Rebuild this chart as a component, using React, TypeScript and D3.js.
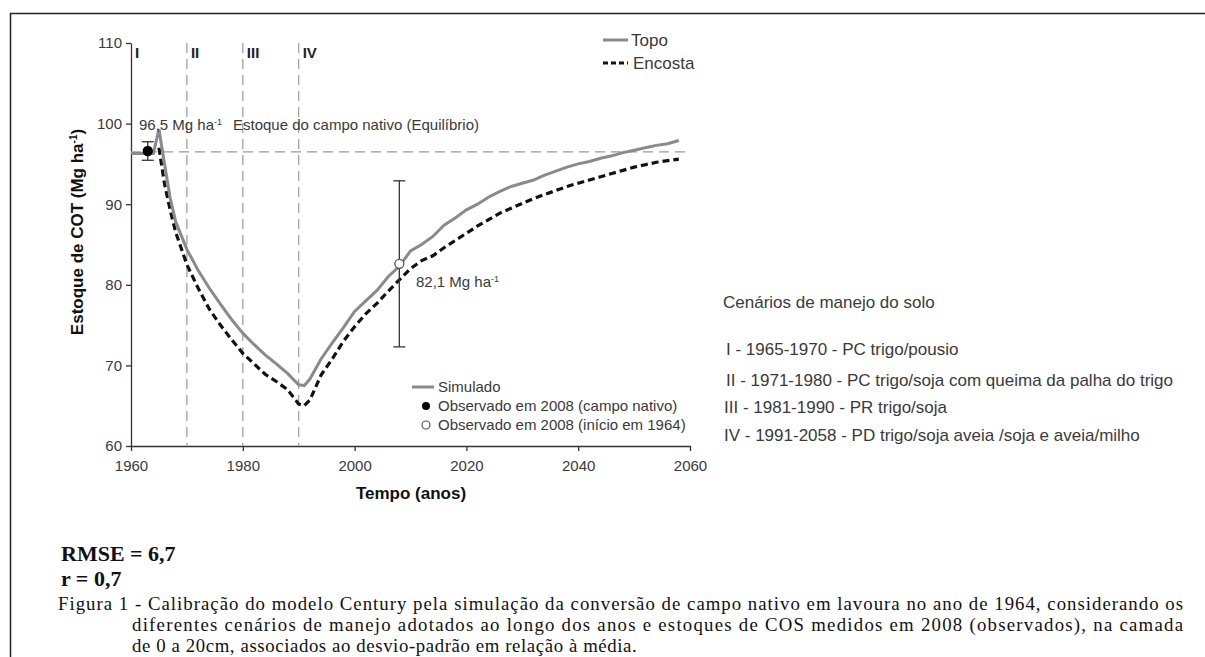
import React, { useEffect, useRef } from 'react';
import * as d3 from 'd3';

// simulated soil carbon stock
const topoYears = [1960, 1964, 1965, 1966, 1967, 1968, 1970, 1972, 1974, 1976, 1978, 1980, 1982, 1984, 1986, 1988, 1990, 1991, 1992, 1994, 1996, 1998, 2000, 2002, 2004, 2006, 2008, 2010, 2012, 2014, 2016, 2018, 2020, 2022, 2024, 2026, 2028, 2030, 2032, 2034, 2036, 2038, 2040, 2042, 2044, 2046, 2048, 2050, 2052, 2054, 2056, 2058];
const topoValues = [96.3, 96.3, 99.3, 95.0, 90.8, 87.8, 84.4, 81.8, 79.6, 77.6, 75.7, 74.0, 72.6, 71.3, 70.2, 69.0, 67.6, 67.5, 68.3, 70.8, 72.8, 74.7, 76.7, 78.0, 79.3, 81.0, 82.3, 84.2, 85.0, 86.0, 87.4, 88.3, 89.3, 90.0, 90.9, 91.6, 92.2, 92.6, 93.0, 93.6, 94.1, 94.6, 95.0, 95.3, 95.7, 96.0, 96.4, 96.7, 97.0, 97.3, 97.5, 97.9];

const encostaYears = [1965, 1966, 1967, 1968, 1970, 1972, 1974, 1976, 1978, 1980, 1982, 1984, 1986, 1988, 1990, 1991, 1992, 1994, 1996, 1998, 2000, 2002, 2004, 2006, 2008, 2010, 2012, 2014, 2016, 2018, 2020, 2022, 2024, 2026, 2028, 2030, 2032, 2034, 2036, 2038, 2040, 2042, 2044, 2046, 2048, 2050, 2052, 2054, 2056, 2058];
const encostaValues = [97.0, 92.5, 89.3, 86.5, 82.5, 79.6, 77.0, 75.0, 73.2, 71.5, 70.2, 68.9, 68.0, 67.0, 65.2, 65.0, 65.7, 68.8, 70.8, 73.0, 74.8, 76.4, 77.7, 79.2, 80.6, 82.0, 83.0, 83.6, 84.6, 85.5, 86.4, 87.3, 88.1, 88.9, 89.5, 90.1, 90.7, 91.2, 91.7, 92.2, 92.6, 93.0, 93.4, 93.8, 94.2, 94.6, 94.9, 95.2, 95.4, 95.6];

// observed points (year, value, error)
const obsYears = [1963, 2008];
const obsValues = [96.6, 82.6];
const obsErrors = [1.15, 10.3];
const obsFilled = [true, false];

const equilibrium = 96.5;
const periodStarts = [1960, 1970, 1980, 1990];
const periodLabels = ['I', 'II', 'III', 'IV'];

const xTicks = [1960, 1980, 2000, 2020, 2040, 2060];
const yTicks = [60, 70, 80, 90, 100, 110];

const scenarioTitle = 'Cenários de manejo do solo';
const scenarios = [
  'I - 1965-1970 - PC trigo/pousio',
  'II - 1971-1980 - PC trigo/soja com queima da palha do trigo',
  'III - 1981-1990 - PR trigo/soja',
  'IV - 1991-2058 - PD trigo/soja  aveia /soja  e  aveia/milho',
];

const captionLines = [
  'Figura  1 - Calibração do modelo Century pela simulação da conversão de campo nativo em lavoura no ano de 1964, considerando os',
  'diferentes cenários de manejo adotados ao longo dos anos e estoques de COS medidos em 2008 (observados), na camada',
  'de 0 a 20cm, associados ao desvio-padrão em relação à média.',
];

const App = () => {
  const svgRef = useRef(null);

  useEffect(() => {
    const svg = d3.select(svgRef.current);
    svg.selectAll('*').remove();

    const sans = '"Liberation Sans", Arial, sans-serif';
    const serif = '"Liberation Serif", "Times New Roman", serif';
    const gray = '#8a8a8a';
    const txt = '#3a3a3a';

    // page frame (top and left only)
    svg.append('path')
      .attr('d', 'M10.5,657 L10.5,13.5 L1205,13.5')
      .attr('fill', 'none')
      .attr('stroke', '#222')
      .attr('stroke-width', 1.5);

    const x = d3.scaleLinear().domain([1960, 2060]).range([131, 690]);
    const y = d3.scaleLinear().domain([60, 110]).range([446, 43]);

    // axes
    const xAxis = svg.append('g')
      .attr('transform', `translate(0,${y(60)})`)
      .call(d3.axisBottom(x).tickValues(xTicks).tickFormat(d3.format('d')).tickSize(5).tickSizeOuter(0));
    const yAxis = svg.append('g')
      .attr('transform', `translate(${x(1960)},0)`)
      .call(d3.axisLeft(y).tickValues(yTicks).tickSize(5).tickSizeOuter(0));
    [xAxis, yAxis].forEach(a => {
      a.select('.domain').attr('stroke', '#333').attr('stroke-width', 1.3);
      a.selectAll('.tick line').attr('stroke', '#333').attr('stroke-width', 1.3);
      a.selectAll('.tick text')
        .attr('font-family', sans)
        .attr('font-size', 15)
        .attr('fill', txt);
    });
    xAxis.selectAll('.tick text').attr('dy', '1.1em');
    yAxis.selectAll('.tick text').attr('x', -9);

    // period separators
    svg.append('g').selectAll('line')
      .data(periodStarts.slice(1))
      .join('line')
      .attr('x1', d => x(d)).attr('x2', d => x(d))
      .attr('y1', y(110)).attr('y2', y(60))
      .attr('stroke', '#9a9a9a')
      .attr('stroke-width', 1.2)
      .attr('stroke-dasharray', '10,6');

    svg.append('g').selectAll('text')
      .data(periodLabels)
      .join('text')
      .attr('x', (d, i) => x(periodStarts[i]) + 4)
      .attr('y', 58)
      .attr('font-family', sans)
      .attr('font-weight', 'bold')
      .attr('font-size', 15)
      .attr('fill', '#222')
      .text(d => d);

    // equilibrium line
    svg.append('line')
      .attr('x1', x(1960)).attr('x2', x(2060))
      .attr('y1', y(equilibrium)).attr('y2', y(equilibrium))
      .attr('stroke', '#9a9a9a')
      .attr('stroke-width', 1.2)
      .attr('stroke-dasharray', '10,6');

    const line = d3.line().x(d => x(d[0])).y(d => y(d[1]));

    // simulated curves
    svg.append('path')
      .datum(encostaYears.map((yr, i) => [yr, encostaValues[i]]))
      .attr('d', line)
      .attr('fill', 'none')
      .attr('stroke', '#111')
      .attr('stroke-width', 3.2)
      .attr('stroke-dasharray', '7,4');

    svg.append('path')
      .datum(topoYears.map((yr, i) => [yr, topoValues[i]]))
      .attr('d', line)
      .attr('fill', 'none')
      .attr('stroke', gray)
      .attr('stroke-width', 3);

    // observed values with error bars
    const obs = svg.append('g').selectAll('g')
      .data(obsYears.map((yr, i) => ({ yr, v: obsValues[i], e: obsErrors[i], filled: obsFilled[i] })))
      .join('g');
    obs.append('line')
      .attr('x1', d => x(d.yr)).attr('x2', d => x(d.yr))
      .attr('y1', d => y(d.v + d.e)).attr('y2', d => y(d.v - d.e))
      .attr('stroke', '#333').attr('stroke-width', 1.3);
    obs.selectAll('.cap')
      .data(d => [{ d, s: 1 }, { d, s: -1 }])
      .join('line')
      .attr('class', 'cap')
      .attr('x1', c => x(c.d.yr) - 6).attr('x2', c => x(c.d.yr) + 6)
      .attr('y1', c => y(c.d.v + c.s * c.d.e)).attr('y2', c => y(c.d.v + c.s * c.d.e))
      .attr('stroke', '#333').attr('stroke-width', 1.3);
    obs.append('circle')
      .attr('cx', d => x(d.yr)).attr('cy', d => y(d.v))
      .attr('r', 4.5)
      .attr('fill', d => d.filled ? '#000' : '#fff')
      .attr('stroke', d => d.filled ? '#000' : '#555')
      .attr('stroke-width', 1.3);

    // annotations
    const unit = (g, xx, yy, label, size) => {
      const t = g.append('text')
        .attr('x', xx).attr('y', yy)
        .attr('font-family', sans)
        .attr('font-size', size)
        .attr('fill', txt);
      t.append('tspan').text(label + ' Mg ha');
      t.append('tspan').attr('dy', -5).attr('font-size', size * 0.6).text('-1');
      return t;
    };
    unit(svg, 139, 130, '96,5', 15);
    svg.append('text')
      .attr('x', 233).attr('y', 130)
      .attr('font-family', sans).attr('font-size', 15).attr('fill', txt)
      .text('Estoque do campo nativo (Equilíbrio)');
    unit(svg, 416, 287, '82,1', 15);

    // y title
    const yt = svg.append('text')
      .attr('transform', 'translate(83,232) rotate(-90)')
      .attr('text-anchor', 'middle')
      .attr('font-family', sans).attr('font-weight', 'bold').attr('font-size', 17)
      .attr('fill', '#111');
    yt.append('tspan').text('Estoque de COT (Mg ha');
    yt.append('tspan').attr('dy', -6).attr('font-size', 10).text('-1');
    yt.append('tspan').attr('dy', 6).text(')');

    svg.append('text')
      .attr('x', 411).attr('y', 499)
      .attr('text-anchor', 'middle')
      .attr('font-family', sans).attr('font-weight', 'bold').attr('font-size', 17)
      .attr('fill', '#111')
      .text('Tempo (anos)');

    // top legend
    const legTop = svg.append('g').attr('font-family', sans).attr('font-size', 17).attr('fill', txt);
    legTop.append('line').attr('x1', 603).attr('x2', 628).attr('y1', 40).attr('y2', 40)
      .attr('stroke', gray).attr('stroke-width', 3);
    legTop.append('text').attr('x', 631).attr('y', 46).text('Topo');
    legTop.append('line').attr('x1', 603).attr('x2', 628).attr('y1', 63).attr('y2', 63)
      .attr('stroke', '#111').attr('stroke-width', 3.2).attr('stroke-dasharray', '5,3');
    legTop.append('text').attr('x', 633).attr('y', 69).text('Encosta');

    // bottom legend
    const legBot = svg.append('g').attr('font-family', sans).attr('font-size', 15).attr('fill', txt);
    legBot.append('line').attr('x1', 412).attr('x2', 434).attr('y1', 387).attr('y2', 387)
      .attr('stroke', gray).attr('stroke-width', 3);
    legBot.append('text').attr('x', 438).attr('y', 392).text('Simulado');
    legBot.append('circle').attr('cx', 426).attr('cy', 406).attr('r', 4).attr('fill', '#000');
    legBot.append('text').attr('x', 438).attr('y', 411).text('Observado em 2008 (campo nativo)');
    legBot.append('circle').attr('cx', 426).attr('cy', 425).attr('r', 4)
      .attr('fill', '#fff').attr('stroke', '#555').attr('stroke-width', 1.2);
    legBot.append('text').attr('x', 438).attr('y', 430).text('Observado em 2008 (início em 1964)');

    // scenario list
    const sc = svg.append('g').attr('font-family', sans).attr('font-size', 17).attr('fill', txt)
      .style('white-space', 'pre');
    sc.append('text').attr('x', 723).attr('y', 308).text(scenarioTitle);
    sc.selectAll('.sc')
      .data(scenarios)
      .join('text')
      .attr('class', 'sc')
      .attr('x', (d, i) => (i < 2 ? 726 : 724))
      .attr('y', (d, i) => [355, 386, 413, 441][i])
      .text(d => d);

    // statistics
    const stats = svg.append('g').attr('font-family', serif).attr('font-weight', 'bold').attr('font-size', 22).attr('fill', '#111');
    stats.append('text').attr('x', 61).attr('y', 561).text('RMSE = 6,7');
    stats.append('text').attr('x', 61).attr('y', 586).text('r = 0,7');

    // caption (first two lines justified)
    svg.append('g').style('white-space', 'pre').selectAll('text')
      .data(captionLines)
      .join('text')
      .attr('x', (d, i) => (i === 0 ? 58 : 132))
      .attr('y', (d, i) => 610 + i * 21)
      .attr('font-family', serif)
      .attr('font-size', 18.8)
      .attr('letter-spacing', (d, i) => (i === 2 ? 0.6 : null))
      .attr('fill', '#111')
      .attr('textLength', (d, i) => (i === 0 ? 1125 : i === 1 ? 1051 : null))
      .attr('lengthAdjust', 'spacing')
      .text(d => d);
  }, []);

  return (
    <svg
      ref={svgRef}
      width={1205}
      height={657}
      style={{ position: 'absolute', left: 0, top: 0, background: '#fff' }}
    />
  );
};

export default App;
